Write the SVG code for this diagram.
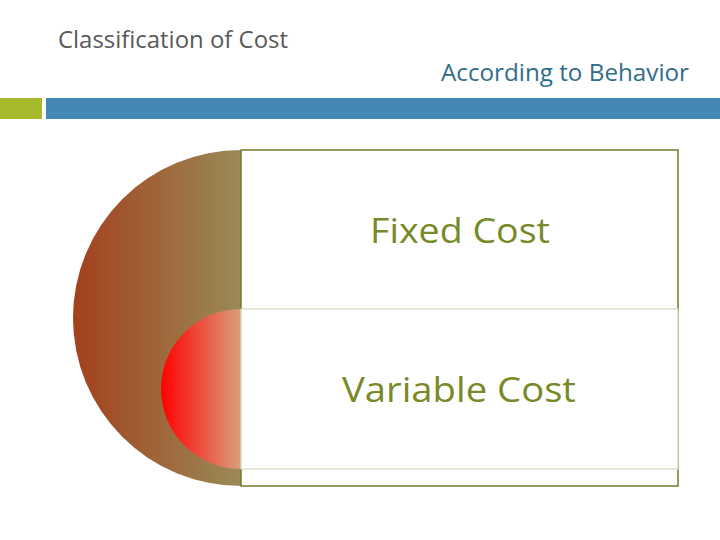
<svg xmlns="http://www.w3.org/2000/svg" width="720" height="540" viewBox="0 0 720 540">
<defs>
<linearGradient id="gBig" x1="0" y1="0" x2="1" y2="0">
<stop offset="0" stop-color="#a3401c"/>
<stop offset="1" stop-color="#9a8a58"/>
</linearGradient>
<linearGradient id="gSmall" x1="0" y1="0" x2="1" y2="0">
<stop offset="0" stop-color="#ff0000"/>
<stop offset="1" stop-color="#d9a07c"/>
</linearGradient>
<style>
.title{font-family:"Open Sans","Liberation Sans",sans-serif;font-size:23px}
.lbl{font-family:"Open Sans","Liberation Sans",sans-serif;font-size:35px;fill:#788a28;text-anchor:middle}
</style>
</defs>
<rect width="720" height="540" fill="#ffffff"/>
<text class="title" x="58" y="48" fill="#595959" textLength="230" lengthAdjust="spacingAndGlyphs">Classification of Cost</text>
<text class="title" x="441" y="81" fill="#2f6d8a" textLength="248" lengthAdjust="spacingAndGlyphs">According to Behavior</text>
<rect x="0" y="98" width="42" height="21" fill="#a7ba2c"/>
<rect x="46" y="98" width="674" height="21" fill="#4389b3"/>
<g id="outer">
<path d="M241,150 A168,168 0 0 0 241,486 Z" fill="url(#gBig)"/>
<rect x="241" y="150" width="437" height="336" fill="#ffffff" stroke="#76782e" stroke-width="1.5"/>
</g>
<g id="fixed">
<text class="lbl" x="460" y="243" textLength="180" lengthAdjust="spacingAndGlyphs">Fixed Cost</text>
</g>
<g id="variable">
<path d="M241,309 A80,80 0 0 0 241,469 Z" fill="url(#gSmall)"/>
<rect x="241" y="309" width="437" height="160" fill="#ffffff" stroke="#d8d8bc" stroke-width="1.2"/>
<text class="lbl" x="459" y="402" textLength="234" lengthAdjust="spacingAndGlyphs">Variable Cost</text>
</g>
<g id="connectors"></g>
</svg>
